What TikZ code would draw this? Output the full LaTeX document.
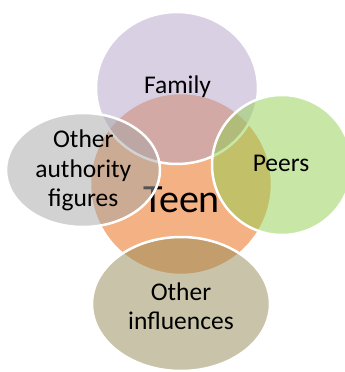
\documentclass[tikz,border=0pt]{standalone}
\usepackage{fontspec}
\setmainfont{Carlito}
\usetikzlibrary{shapes.geometric}
\definecolor{teenorange}{HTML}{F4B183}
\definecolor{famcol}{HTML}{B3A2C7}
\definecolor{peercol}{HTML}{92D050}
\definecolor{othercol}{HTML}{948A54}
\definecolor{authcol}{HTML}{A6A6A6}
\begin{document}
\begin{tikzpicture}[x=1pt,y=-1pt,
  sat/.style={ellipse, draw=white, line width=2.5pt, fill opacity=0.5, inner sep=0pt},
  lbl/.style={font=\fontsize{25.5}{29.5}\selectfont, align=center, text=black, inner sep=0pt}]
\useasboundingbox (0,0) rectangle (345,372);
\clip (0,0) rectangle (345,372);
\node[circle, fill=teenorange, draw=white, line width=2.5pt, minimum size=182pt, inner sep=0pt] (teen) at (181,184) {};
\node[anchor=base, font=\fontsize{40}{48}\selectfont, inner sep=0pt] (teenlabel) at (181.5,212) {Teen};
\node[sat, fill=famcol, minimum width=162pt, minimum height=152pt] (family) at (177,88) {};
\node[sat, fill=peercol, minimum width=140pt, minimum height=140pt] (peers) at (282,165) {};
\node[sat, fill=othercol, minimum width=178pt, minimum height=134pt] (other) at (181,304) {};
\node[sat, fill=authcol, minimum width=154pt, minimum height=114pt] (auth) at (83,170) {};
\node[lbl, anchor=base] (familylabel) at (177.5,93) {Family};
\node[lbl, anchor=base] (peerslabel) at (281,171.7) {Peers};
\node[lbl] (otherlabel) at (181,306) {Other\\influences};
\node[lbl] (authlabel) at (83.3,170.8) {Other\\authority\\figures};
\end{tikzpicture}
\end{document}
